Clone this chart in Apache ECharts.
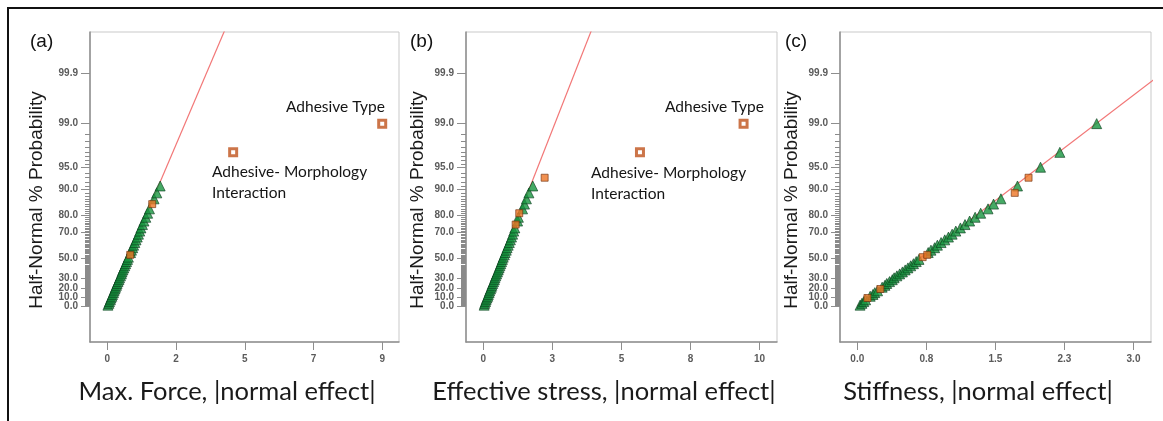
<!DOCTYPE html>
<html>
<head>
<meta charset="utf-8">
<title>Half-normal plots</title>
<script src="https://cdn.jsdelivr.net/npm/echarts@6/dist/echarts.min.js"></script>
<style>
  html, body { margin: 0; padding: 0; background: #fff; }
  #chart { width: 1163px; height: 421px; }
</style>
</head>
<body>
<div id="chart"></div>
<script>
// half-normal % probability of each term (rank) and its |normal effect|
const pctA = [1,3,5,7,9,11,13,15,17,19,21,23,25,27,29,31,33,35,37,39,41,43,45,47,49,51,53,55,57,59,61,63,65,67,69,71,73,75,77,79,81,83,85,87,89,91,97,99];
const effA = [0.02,0.05,0.07,0.10,0.12,0.15,0.17,0.20,0.22,0.25,0.27,0.30,0.32,0.35,0.38,0.40,0.43,0.46,0.48,0.51,0.54,0.57,0.60,0.63,0.66,0.69,0.75,0.76,0.79,0.83,0.86,0.90,0.94,0.98,1.02,1.06,1.10,1.15,1.20,1.26,1.32,1.38,1.47,1.53,1.62,1.73,4.12,9.0];
const sqA = [53, 85];          // filled orange squares
const outA = [97, 99];         // labelled hollow squares

const pctB = [1,3,5,7,9,11,13,15,17,19,21,23,25,27,29,31,33,35,37,39,41,43,45,47,49,51,53,55,57,59,61,63,65,67,69,71,73,75,77,79,81,83,85,87,89,91,93,97,99];
const effB = [0.03,0.05,0.08,0.10,0.13,0.16,0.18,0.21,0.23,0.26,0.29,0.31,0.34,0.37,0.40,0.42,0.45,0.48,0.51,0.54,0.57,0.60,0.63,0.66,0.69,0.72,0.76,0.79,0.83,0.86,0.90,0.94,0.98,1.02,1.06,1.10,1.14,1.17,1.24,1.27,1.30,1.42,1.49,1.56,1.65,1.79,2.22,5.67,9.42];
const sqB = [75, 81, 93];
const outB = [97, 99];

const pctC = [1,3,5,7,9,11,13,15,17,19,21,23,25,27,29,31,33,35,37,39,41,43,45,47,49,51,53,55,57,59,61,63,65,67,69,71,73,75,77,79,81,83,85,87,89,91,93,95,97,99];
const effC = [0.03,0.05,0.07,0.09,0.11,0.14,0.17,0.19,0.22,0.25,0.27,0.30,0.32,0.35,0.38,0.40,0.43,0.46,0.49,0.52,0.55,0.58,0.61,0.64,0.67,0.71,0.76,0.77,0.80,0.84,0.87,0.91,0.95,0.99,1.03,1.07,1.12,1.17,1.22,1.28,1.34,1.42,1.48,1.56,1.71,1.74,1.86,1.99,2.20,2.60];
const sqC = [9, 19, 51, 53, 89, 93];
const outC = [];

// slope of the red reference line (z per unit effect)
const fitSlope = [1.013, 0.995, 0.993];

// tick labels
const yTickPct = [0, 10, 20, 30, 50, 70, 80, 90, 95, 99, 99.9];
const yTickLabels = ['0.0', '10.0', '20.0', '30.0', '50.0', '70.0', '80.0', '90.0', '95.0', '99.0', '99.9'];
const xTicksA = [0, 2.25, 4.5, 6.75, 9];
const xLabelsA = ['0', '2', '5', '7', '9'];
const xTicksB = [0, 2.5, 5, 7.5, 10];
const xLabelsB = ['0', '3', '5', '8', '10'];
const xTicksC = [0, 0.75, 1.5, 2.25, 3];
const xLabelsC = ['0.0', '0.8', '1.5', '2.3', '3.0'];

const panelNames = ['(a)', '(b)', '(c)'];
const xTitles = ['Max. Force, |normal effect|', 'Effective stress, |normal effect|', 'Stiffness, |normal effect|'];
const yTitle = 'Half-Normal % Probability';

// inverse standard normal CDF (Acklam)
function invNorm(p) {
  const a = [-3.969683028665376e+01, 2.209460984245205e+02, -2.759285104469687e+02, 1.383577518672690e+02, -3.066479806614716e+01, 2.506628277459239e+00];
  const b = [-5.447609879822406e+01, 1.615858368580409e+02, -1.556989798598866e+02, 6.680131188771972e+01, -1.328068155288572e+01];
  const c = [-7.784894002430293e-03, -3.223964580411365e-01, -2.400758277161838e+00, -2.549732539343734e+00, 4.374664141464968e+00, 2.938163982698783e+00];
  const d = [7.784695709041462e-03, 3.224671290700398e-01, 2.445134137142996e+00, 3.754408661907416e+00];
  const pl = 0.02425;
  let q, r;
  if (p < pl) {
    q = Math.sqrt(-2 * Math.log(p));
    return (((((c[0]*q+c[1])*q+c[2])*q+c[3])*q+c[4])*q+c[5]) / ((((d[0]*q+d[1])*q+d[2])*q+d[3])*q+1);
  }
  if (p > 1 - pl) {
    q = Math.sqrt(-2 * Math.log(1 - p));
    return -(((((c[0]*q+c[1])*q+c[2])*q+c[3])*q+c[4])*q+c[5]) / ((((d[0]*q+d[1])*q+d[2])*q+d[3])*q+1);
  }
  q = p - 0.5; r = q * q;
  return (((((a[0]*r+a[1])*r+a[2])*r+a[3])*r+a[4])*r+a[5])*q / (((((b[0]*r+b[1])*r+b[2])*r+b[3])*r+b[4])*r+1);
}
// half-normal probability scale: percent -> z
function hn(pct) { return pct <= 0 ? 0 : invNorm(0.5 + pct / 200); }

const yMin = -0.508, yMax = 3.87;
const yMajor = yTickPct.map(hn);
// labels split over two axes so the tightly packed low ones are not dropped
const yMajorEven = yMajor.filter((v, k) => k % 2 === 0);
const yMajorOdd = yMajor.filter((v, k) => k % 2 === 1);
const yMinor = [];
for (let p = 1; p < 95; p++) yMinor.push(hn(p));
for (let p = 95.5; p < 99; p += 0.5) yMinor.push(hn(p));

const panels = [
  { pct: pctA, eff: effA, sq: sqA, out: outA, ticks: xTicksA, labels: xLabelsA, xMin: -0.567, xMax: 9.55, left: 90, width: 309 },
  { pct: pctB, eff: effB, sq: sqB, out: outB, ticks: xTicksB, labels: xLabelsB, xMin: -0.627, xMax: 10.63, left: 466, width: 311 },
  { pct: pctC, eff: effC, sq: sqC, out: outC, ticks: xTicksC, labels: xLabelsC, xMin: -0.188, xMax: 3.19, left: 840, width: 311 }
];

const grid = [], xAxis = [], yAxis = [], series = [];
const axisGrey = '#8e8e8e';
const tickFont = { fontFamily: 'Liberation Sans', fontSize: 10, fontWeight: 'bold', color: '#5a5a5a' };
const yLabelFmt = v => { const k = yMajor.findIndex(t => Math.abs(t - v) < 1e-6); return k < 0 ? '' : yTickLabels[k]; };

panels.forEach((pn, i) => {
  grid.push({ left: pn.left, top: 32, width: pn.width, height: 310, show: true, borderColor: '#c9c9c9', borderWidth: 1 });
  xAxis.push({
    gridIndex: i, type: 'value', min: pn.xMin, max: pn.xMax,
    splitLine: { show: false },
    axisLine: { onZero: false, lineStyle: { color: axisGrey, width: 1.5 } },
    axisTick: { customValues: pn.ticks, length: 8, lineStyle: { color: axisGrey } },
    axisLabel: Object.assign({
      customValues: pn.ticks, margin: 12,
      formatter: v => { const k = pn.ticks.findIndex(t => Math.abs(t - v) < 1e-6); return k < 0 ? '' : pn.labels[k]; }
    }, tickFont)
  });
  // long ticks + every other label
  yAxis.push({
    gridIndex: i, type: 'value', min: yMin, max: yMax, position: 'left',
    splitLine: { show: false },
    axisLine: { onZero: false, lineStyle: { color: axisGrey, width: 1.5 } },
    axisTick: { customValues: yMajor, length: 9, lineStyle: { color: axisGrey } },
    axisLabel: Object.assign({ customValues: yMajorEven, margin: 12, formatter: yLabelFmt }, tickFont)
  });
  // ruler ticks + remaining labels
  yAxis.push({
    gridIndex: i, type: 'value', min: yMin, max: yMax, position: 'left',
    splitLine: { show: false },
    axisLine: { show: false, onZero: false },
    axisTick: { customValues: yMinor, length: 5, lineStyle: { color: '#8a8a8a', width: 1 } },
    axisLabel: Object.assign({ customValues: yMajorOdd, margin: 12, formatter: yLabelFmt }, tickFont)
  });

  const tri = [], sq = [], out = [];
  pn.pct.forEach((p, k) => {
    const pt = [pn.eff[k], hn(p)];
    if (pn.out.includes(p)) out.push(pt);
    else if (pn.sq.includes(p)) sq.push(pt);
    else tri.push(pt);
  });
  const xEnd = pn.xMax * 1.2;
  series.push({
    type: 'line', xAxisIndex: i, yAxisIndex: 2 * i, data: [[0, 0], [xEnd, xEnd * fitSlope[i]]],
    symbol: 'none', clip: true, lineStyle: { color: '#f27777', width: 1.2 }, z: 1, silent: true
  });
  series.push({
    type: 'scatter', xAxisIndex: i, yAxisIndex: 2 * i, data: tri, symbol: 'triangle', symbolSize: [10, 10],
    itemStyle: { color: '#16953f', borderColor: '#0a3d1c', borderWidth: 0.8 }, z: 3
  });
  series.push({
    type: 'scatter', xAxisIndex: i, yAxisIndex: 2 * i, data: sq, symbol: 'rect', symbolSize: 7,
    itemStyle: { color: '#ee7626', borderColor: '#6e300c', borderWidth: 0.8 }, z: 4
  });
  series.push({
    type: 'scatter', xAxisIndex: i, yAxisIndex: 2 * i, data: out, symbol: 'rect', symbolSize: 7,
    itemStyle: { color: '#ffffff', borderColor: '#bf521c', borderWidth: 3 }, z: 4
  });
});

const titleFont = 'Lato';
const graphic = [
  { type: 'line', shape: { x1: 7, y1: 8, x2: 1163, y2: 8 }, style: { stroke: '#111', lineWidth: 2 } },
  { type: 'line', shape: { x1: 8, y1: 7, x2: 8, y2: 421 }, style: { stroke: '#111', lineWidth: 2 } }
];
const nameX = [30, 410, 785];
const yTitleX = [37, 418, 792];
const xTitleX = [227, 604, 978];
panels.forEach((pn, i) => {
  graphic.push({ type: 'text', x: nameX[i], y: 42, style: { text: panelNames[i], font: '19px "Liberation Sans"', fill: '#111', textVerticalAlign: 'middle' } });
  graphic.push({ type: 'text', x: yTitleX[i], y: 200, rotation: Math.PI / 2, style: { text: yTitle, font: '19px "Liberation Sans"', fill: '#1a1a1a', textAlign: 'center', textVerticalAlign: 'middle' } });
  graphic.push({ type: 'text', x: xTitleX[i], y: 392, style: { text: xTitles[i], font: '25.5px ' + titleFont, fill: '#1a1a1a', textAlign: 'center', textVerticalAlign: 'middle' } });
});
// annotations of the two large effects
const notes = [
  { text: 'Adhesive Type', x: 286, y: 107 },
  { text: 'Adhesive- Morphology', x: 212, y: 172 },
  { text: 'Interaction', x: 212, y: 193 },
  { text: 'Adhesive Type', x: 665, y: 107 },
  { text: 'Adhesive- Morphology', x: 591, y: 173 },
  { text: 'Interaction', x: 591, y: 194 }
];
notes.forEach(n => graphic.push({ type: 'text', x: n.x, y: n.y, style: { text: n.text, font: '15.5px ' + titleFont, fill: '#151515', textVerticalAlign: 'middle' } }));

const chart = echarts.init(document.getElementById('chart'), null, { renderer: 'canvas' });
chart.setOption({
  backgroundColor: '#ffffff',
  animation: false,
  grid, xAxis, yAxis, series, graphic
});
</script>
</body>
</html>
